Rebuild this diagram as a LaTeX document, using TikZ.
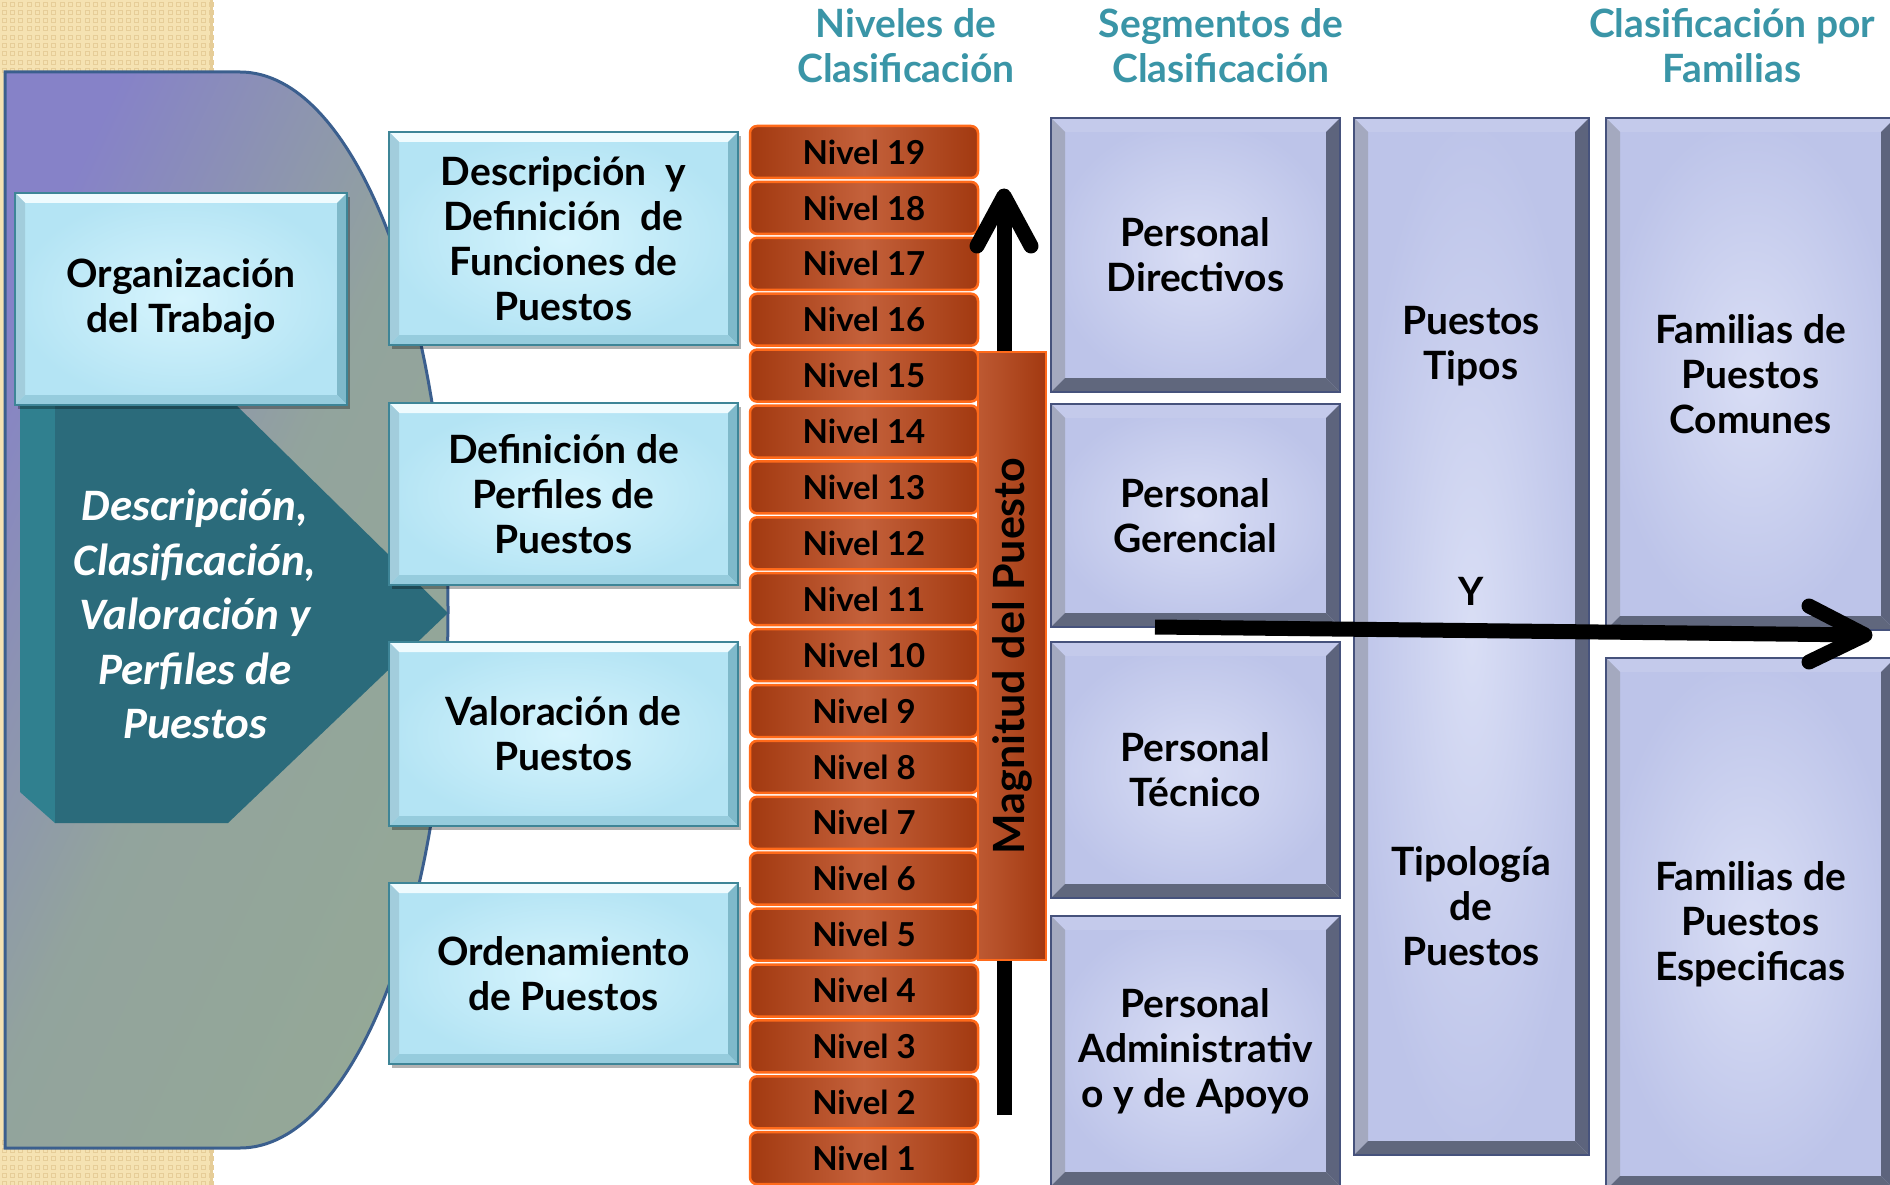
\documentclass[tikz,border=0pt]{standalone}
\usepackage{fontspec}
\setmainfont{Lato}
\newfontfamily\calfont{Carlito}
\usetikzlibrary{shadows}

\definecolor{beige}{HTML}{F5E2B2}
\definecolor{beigedark}{HTML}{E6CD98}
\definecolor{purplish}{HTML}{8682C8}
\definecolor{sage}{HTML}{94A897}
\definecolor{rimblue}{HTML}{3B5F8E}
\definecolor{tealdark}{HTML}{2B6B7B}
\definecolor{tealside}{HTML}{30808F}
\definecolor{skyin}{HTML}{D6F4FD}
\definecolor{skyout}{HTML}{B4E4F4}
\definecolor{skyrim}{HTML}{3E8597}
\definecolor{lavin}{HTML}{D9DEF5}
\definecolor{lavout}{HTML}{BDC4E9}
\definecolor{lavrim}{HTML}{46527C}
\definecolor{rust}{HTML}{A23910}
\definecolor{rustlight}{HTML}{C4613B}
\definecolor{flame}{HTML}{FF6A1A}
\definecolor{headteal}{HTML}{3A95A7}

% four bevel faces inside a box: depth, top, left, right, bottom
\newcommand\bevelfaces[5]{%
  \fill[#2] (path picture bounding box.north west) -- (path picture bounding box.north east)
    -- ([xshift=-#1,yshift=-#1]path picture bounding box.north east)
    -- ([xshift=#1,yshift=-#1]path picture bounding box.north west) -- cycle;
  \fill[#3] (path picture bounding box.north west) -- ([xshift=#1,yshift=-#1]path picture bounding box.north west)
    -- ([xshift=#1,yshift=#1]path picture bounding box.south west) -- (path picture bounding box.south west) -- cycle;
  \fill[#4] (path picture bounding box.north east) -- ([xshift=-#1,yshift=-#1]path picture bounding box.north east)
    -- ([xshift=-#1,yshift=#1]path picture bounding box.south east) -- (path picture bounding box.south east) -- cycle;
  \fill[#5] (path picture bounding box.south west) -- ([xshift=#1,yshift=#1]path picture bounding box.south west)
    -- ([xshift=-#1,yshift=#1]path picture bounding box.south east) -- (path picture bounding box.south east) -- cycle;
}

\tikzset{
  skybox/.style={draw=skyrim, line width=2pt, inner color=skyin, outer color=skyout,
    minimum width=349pt, align=center, font=\fontsize{39}{45}\selectfont\bfseries,
    drop shadow={shadow xshift=3pt, shadow yshift=-4pt, opacity=.3, fill=black},
    path picture={\bevelfaces{10pt}{white!60!skyin}{skyout!90!black}{skyout!55!skyrim}{skyout!75!skyrim}}},
  lavbox/.style={draw=lavrim, line width=1.5pt, inner color=lavin, outer color=lavout,
    minimum width=289pt, align=center, font=\fontsize{39}{45}\selectfont\bfseries,
    path picture={\bevelfaces{14pt}{lavout!90!white}{lavout!60!gray}{lavrim!60!gray}{lavrim!55!gray}}},
  nivel/.style={draw=flame, line width=2.5pt, rounded corners=7pt,
    left color=rust, right color=rust, middle color=rustlight,
    minimum width=228pt, minimum height=52pt, font=\fontsize{33}{36}\selectfont\bfseries},
  hdr/.style={text=headteal, align=center, font=\fontsize{39}{45}\selectfont\bfseries}
}

\begin{document}
\begin{tikzpicture}[x=1pt, y=-1pt,
  bigarrow/.style={line width=15pt, line cap=round, line join=round},
  txt/.style={align=center, font=\fontsize{39}{45}\selectfont\bfseries}]
\useasboundingbox (0,0) rectangle (1890,1185);

% left panel
\fill[beige] (0,0) rectangle (213,1185);
\foreach \i in {0,...,25}{
  \foreach \j in {0,...,8}{
    \draw[beigedark, line width=.8pt] ({\i*8.3+2},{\j*8.3+2}) rectangle +(4,4);
  }
  \foreach \j in {0,...,5}{
    \draw[beigedark, line width=.8pt] ({\i*8.3+2},{1140+\j*8.3}) rectangle +(4,4);
  }
}
\fill[beigedark] (210,0) rectangle (213,1185);
\draw[draw=rimblue, line width=3pt, top color=purplish, bottom color=sage, middle color=sage!88!purplish, shading angle=65]
  (5,72) -- (240,72) arc[start angle=90, end angle=-90, x radius=208pt, y radius=538pt] -- (5,1148) -- cycle;
\fill[tealside] (20,404) -- (55,404) -- (55,823) -- (20,792) -- cycle;
\fill[tealdark] (55,404) -- (235,404) -- (448,613) -- (228,823) -- (55,823) -- cycle;
\node[text=white, align=center, font=\calfont\fontsize{45}{54.5}\selectfont\bfseries\itshape] (procesos) at (195,614)
  {Descripción,\\Clasificación,\\Valoración y\\Perfiles de\\Puestos};
\node[skybox, minimum width=332pt, minimum height=212pt] (org) at (181,299) {Organización\\del Trabajo};

% procesos
\node[skybox, minimum height=213pt] (funciones) at (563.5,238.5) {Descripción \ y\\Definición \ de\\Funciones de\\Puestos};
\node[skybox, minimum height=182pt] (perfiles) at (563.5,494) {Definición de\\Perfiles de\\Puestos};
\node[skybox, minimum height=184pt] (valoracion) at (563.5,734) {Valoración de\\Puestos};
\node[skybox, minimum height=181pt] (ordenamiento) at (563.5,973.5) {Ordenamiento\\de Puestos};

% niveles
\node[hdr] (hdrniv) at (906,46) {Niveles de\\Clasificación};
\foreach \n in {1,...,19}{
  \node[nivel] (niv\n) at (864,{152+(19-\n)*55.9}) {Nivel \n};
}
\coordinate (vbase) at (1004,1115);
\coordinate (vtip) at (1004,196);
\draw[bigarrow, line cap=butt] (vbase) -- (vtip);
\draw[bigarrow] ([xshift=-27pt,yshift=-50pt]vtip) -- (vtip) -- ([xshift=27pt,yshift=-50pt]vtip);
\node[draw=flame, line width=2.5pt, left color=rustlight!80!rust, right color=rust,
  minimum width=68pt, minimum height=608pt] (magnitud) at (1012,656) {};
\node[rotate=90, font=\fontsize{43}{45}\selectfont\bfseries] at (magnitud.center) {Magnitud del Puesto};

% segmentos
\node[hdr] (hdrseg) at (1221,46) {Segmentos de\\Clasificación};
\node[lavbox, minimum height=274pt] (directivos) at (1195.5,255) {Personal\\Directivos};
\node[lavbox, minimum height=223pt] (gerencial) at (1195.5,515.5) {Personal\\Gerencial};
\node[lavbox, minimum height=256pt] (tecnico) at (1195.5,770) {Personal\\Técnico};
\node[lavbox, minimum height=270pt] (admin) at (1195.5,1051) {Personal\\Administrativ\\o y de Apoyo};

% puestos
\node[lavbox, minimum width=235pt, minimum height=1037pt] (puestos) at (1471.5,636.5) {};
\node[txt] (tipos) at (1471,346) {Puestos\\Tipos};
\node[txt] (ylabel) at (1471,591) {Y};
\node[txt] (tipologia) at (1471,906) {Tipología\\de\\Puestos};

% familias
\node[hdr] (hdrfam) at (1732,46) {Clasificación por\\Familias};
\node[lavbox, minimum height=512pt] (famcomunes) at (1750.5,374) {Familias de\\Puestos\\Comunes};
\node[lavbox, minimum height=532pt] (famespec) at (1750.5,924) {Familias de\\Puestos\\Especificas};

\coordinate (hbase) at (1155,627);
\coordinate (htip) at (1865,635);
\draw[bigarrow, line cap=butt] (hbase) -- (htip);
\draw[bigarrow] ([xshift=-56pt,yshift=29pt]htip) -- (htip) -- ([xshift=-56pt,yshift=-27pt]htip);
\end{tikzpicture}
\end{document}
